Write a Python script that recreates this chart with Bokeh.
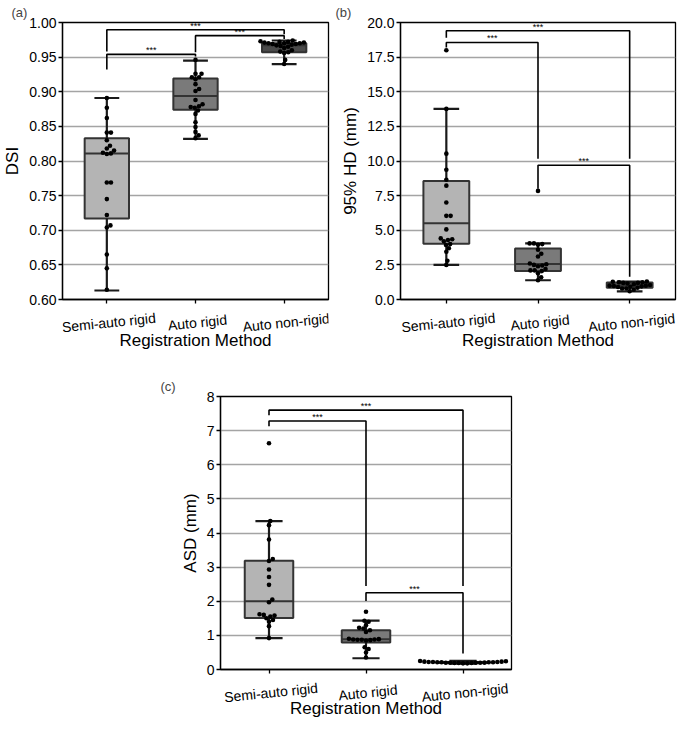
import numpy as np
from bokeh.plotting import figure
from bokeh.models import FixedTicker, NumeralTickFormatter, Range1d, Spacer, ColumnDataSource
from bokeh.layouts import column, row
from bokeh.core.properties import value
from bokeh.embed import file_html
from bokeh.resources import INLINE

categories = ["Semi-auto rigid", "Auto rigid", "Auto non-rigid"]
x_title = "Registration Method"
box_colors = ["#b4b4b4", "#7a7a7a", "#4a4a4a"]

# ---- (a) DSI ----
dsi_semi = [0.891, 0.877, 0.862, 0.841, 0.841, 0.830, 0.822, 0.818, 0.815, 0.812, 0.811,
            0.810, 0.769, 0.769, 0.745, 0.722, 0.707, 0.704, 0.665, 0.645, 0.614]
dsi_auto = [0.946, 0.926, 0.926, 0.921, 0.921, 0.918, 0.911, 0.904, 0.901, 0.888, 0.882,
            0.879, 0.878, 0.877, 0.873, 0.868, 0.856, 0.849, 0.842, 0.837, 0.833]
dsi_nonrigid = [0.974, 0.973, 0.972, 0.972, 0.971, 0.971, 0.970, 0.970, 0.970, 0.969, 0.969,
                0.968, 0.967, 0.966, 0.965, 0.963, 0.960, 0.958, 0.957, 0.956, 0.946, 0.940]
dsi_q1 = [0.717, 0.874, 0.957]
dsi_median = [0.811, 0.894, 0.967]
dsi_q3 = [0.833, 0.919, 0.970]
dsi_whisk_lo = [0.613, 0.832, 0.940]
dsi_whisk_hi = [0.891, 0.945, 0.974]
dsi_ticks = [0.60, 0.65, 0.70, 0.75, 0.80, 0.85, 0.90, 0.95, 1.00]
# (group i, group j, bar level, left leg end, right leg end)
dsi_brackets = [(0, 1, 0.954, 0.932, 0.951), (0, 2, 0.9895, 0.958, 0.983), (1, 2, 0.981, 0.957, 0.976)]

# ---- (b) 95% HD ----
hd_semi = [18.0, 13.76, 10.53, 9.37, 8.65, 8.22, 7.0, 6.04, 6.04, 5.06, 4.41, 4.35, 4.3,
           4.2, 4.0, 3.93, 3.7, 3.45, 2.8, 2.5]
hd_auto = [7.84, 4.05, 4.05, 4.0, 3.95, 3.6, 3.3, 3.1, 2.6, 2.55, 2.5, 2.45, 2.4, 2.2,
           2.1, 2.1, 2.05, 1.9, 1.6, 1.39]
hd_nonrigid = [1.3, 1.28, 1.25, 1.25, 1.2, 1.2, 1.15, 1.1, 1.05, 1.0, 1.0, 0.98, 0.95,
               0.92, 0.9, 0.85, 0.8, 0.8, 0.7, 0.6]
hd_q1 = [4.03, 2.06, 0.85]
hd_median = [5.5, 2.57, 1.0]
hd_q3 = [8.56, 3.69, 1.22]
hd_whisk_lo = [2.5, 1.39, 0.58]
hd_whisk_hi = [13.76, 4.05, 1.3]
hd_ticks = [0.0, 2.5, 5.0, 7.5, 10.0, 12.5, 15.0, 17.5, 20.0]
hd_brackets = [(0, 1, 18.56, 18.2, 10.17), (0, 2, 19.4, 18.9, 10.17), (1, 2, 9.69, 8.0, 1.65)]

# ---- (c) ASD ----
asd_semi = [6.63, 4.35, 4.23, 3.81, 3.24, 3.18, 2.93, 2.71, 2.48, 2.05, 1.97, 1.62, 1.60,
            1.58, 1.55, 1.50, 1.45, 1.40, 1.27, 0.92]
asd_auto = [1.69, 1.43, 1.40, 1.30, 1.22, 1.20, 1.15, 1.10, 0.90, 0.89, 0.88, 0.88, 0.87,
            0.87, 0.86, 0.85, 0.65, 0.60, 0.50, 0.35]
asd_nonrigid = [0.25, 0.24, 0.23, 0.23, 0.22, 0.22, 0.22, 0.21, 0.21, 0.21, 0.21, 0.20,
                0.20, 0.20, 0.20, 0.20, 0.19, 0.19, 0.19, 0.18, 0.18]
asd_q1 = [1.51, 0.79, 0.19]
asd_median = [2.0, 0.89, 0.20]
asd_q3 = [3.19, 1.15, 0.22]
asd_whisk_lo = [0.92, 0.33, 0.17]
asd_whisk_hi = [4.35, 1.43, 0.25]
asd_ticks = [0, 1, 2, 3, 4, 5, 6, 7, 8]
asd_brackets = [(0, 1, 7.28, 7.13, 2.45), (0, 2, 7.6, 7.45, 2.45), (1, 2, 2.25, 2.01, 0.47)]

FONT = "Liberation Sans"
DOT = 4.6
SWARM_D = 4.3


def swarm_offsets(vals, d, px_x, px_y):
    vals = np.asarray(vals, dtype=float)
    order = np.argsort(vals, kind="stable")
    placed = []
    offs = np.zeros(len(vals))
    for idx in order:
        y = vals[idx] * px_y
        cands = [0.0]
        for (xj, yj) in placed:
            dy = abs(y - yj)
            if dy < d:
                dx = np.sqrt(d * d - dy * dy)
                cands += [xj + dx, xj - dx]
        cands.sort(key=abs)
        chosen = cands[-1]
        for c in cands:
            if all((c - xj) ** 2 + (y - yj) ** 2 >= d * d - 1e-6 for (xj, yj) in placed):
                chosen = c
                break
        placed.append((chosen, y))
        offs[idx] = chosen / px_x
    return offs


def make_panel(title, ylabel, groups, q1, med, q3, lo, hi, ticks, fmt, brackets,
               width, height, bl, br, bt, bb, lab_h, cat_dy, xlab_dy):
    ymin, ymax = ticks[0], ticks[-1]
    p = figure(width=width, height=height, output_backend="svg", toolbar_location=None,
               x_range=Range1d(0, 3), y_range=Range1d(ymin, ymax),
               min_border_left=bl, min_border_right=br, min_border_top=bt, min_border_bottom=bb)
    fw = width - bl - br
    fh = height - bt - bb
    px_x = fw / 3.0
    px_y = fh / (ymax - ymin)
    centers = [i + 0.5 for i in range(3)]

    p.title.text = title
    p.title.text_font = FONT
    p.title.text_font_size = "13px"
    p.title.text_font_style = "normal"
    p.title.align = "left"
    p.title.offset = -bl
    p.title.standoff = 5

    p.xgrid.visible = False
    p.ygrid.ticker = FixedTicker(ticks=ticks)
    p.ygrid.grid_line_color = "#a4a4a4"
    p.ygrid.grid_line_width = 1.3

    p.outline_line_color = "black"
    p.outline_line_width = 1.3

    p.xaxis.ticker = FixedTicker(ticks=centers)
    p.xaxis.major_label_overrides = {c: "" for c in centers}
    p.yaxis.ticker = FixedTicker(ticks=ticks)
    p.yaxis.formatter = NumeralTickFormatter(format=fmt)
    for ax in (p.xaxis[0], p.yaxis[0]):
        ax.axis_line_color = "black"
        ax.axis_line_width = 1.3
        ax.major_tick_line_color = "black"
        ax.major_tick_line_width = 1.3
        ax.major_tick_out = 4
        ax.major_tick_in = 0
        ax.minor_tick_line_color = None
        ax.major_label_text_font = FONT
        ax.major_label_text_font_size = "14px"
        ax.major_label_text_color = "black"
        ax.major_label_standoff = 2
        ax.axis_label_text_font = FONT
        ax.axis_label_text_font_size = "17px"
        ax.axis_label_text_font_style = "normal"
        ax.axis_label_text_color = "black"
        ax.axis_label_standoff = 4
    p.xaxis.major_label_standoff = 0
    p.xaxis.major_label_text_font_size = "0px"
    p.yaxis.axis_label = ylabel

    src = ColumnDataSource(dict(x=centers, q1=q1, q3=q3, med=med, lo=lo, hi=hi, color=box_colors))
    p.vbar(x="x", bottom="q1", top="q3", width=0.5, fill_color="color",
           line_color="#333333", line_width=2, source=src)
    p.segment(x0=[c - 0.25 for c in centers], x1=[c + 0.25 for c in centers], y0=med, y1=med,
              line_color="#333333", line_width=2)
    p.segment(x0=centers, x1=centers, y0=q3, y1=hi, line_color="#1a1a1a", line_width=2.2)
    p.segment(x0=centers, x1=centers, y0=q1, y1=lo, line_color="#1a1a1a", line_width=2.2)
    p.segment(x0=[c - 0.14 for c in centers], x1=[c + 0.14 for c in centers], y0=hi, y1=hi,
              line_color="#1a1a1a", line_width=2.2)
    p.segment(x0=[c - 0.14 for c in centers], x1=[c + 0.14 for c in centers], y0=lo, y1=lo,
              line_color="#1a1a1a", line_width=2.2)

    xs, ys = [], []
    for c, g in zip(centers, groups):
        offs = swarm_offsets(g, SWARM_D, px_x, px_y)
        xs += list(c + offs)
        ys += list(g)
    p.scatter(xs, ys, size=DOT, color="black", line_width=0)

    tx, ty = [], []
    for (i, j, lev, le, re) in brackets:
        p.line([centers[i], centers[i], centers[j], centers[j]], [le, lev, lev, re],
               line_color="black", line_width=1.6)
        tx.append((centers[i] + centers[j]) / 2)
        ty.append(lev)
    p.text(x=tx, y=ty, text=["***"] * len(tx), text_align="center", text_baseline="bottom",
           text_font=value(FONT), text_font_size="9px", text_color="black", y_offset=1)

    # strip under the plot: slightly rotated category names and the x title,
    # sharing the plot's x range (its y range is in pixels below the plot)
    lab = figure(width=width, height=lab_h, output_backend="svg", toolbar_location=None,
                 x_range=p.x_range, y_range=Range1d(-lab_h, 0),
                 x_axis_location=None, y_axis_location=None,
                 min_border_left=bl, min_border_right=br, min_border_top=0, min_border_bottom=0)
    lab.outline_line_color = None
    lab.grid.visible = False
    lab.text(x=centers, y=[-cat_dy] * 3, text=categories, angle=0.1, text_align="center",
             text_baseline="middle", x_offset=2, text_font=value(FONT), text_font_size="14px",
             text_color="black")
    lab.text(x=[1.5], y=[-xlab_dy], text=[x_title], text_align="center", text_baseline="middle",
             text_font=value(FONT), text_font_size="17px", text_color="black")
    return column(p, lab)


pa = make_panel("(a)", "DSI", [dsi_semi, dsi_auto, dsi_nonrigid], dsi_q1, dsi_median, dsi_q3,
                dsi_whisk_lo, dsi_whisk_hi, dsi_ticks, "0.00", dsi_brackets,
                335, 308, 51, 7, 21, 9, 42, 14, 32)
pb = make_panel("(b)", "95% HD (mm)", [hd_semi, hd_auto, hd_nonrigid], hd_q1, hd_median, hd_q3,
                hd_whisk_lo, hd_whisk_hi, hd_ticks, "0.0", hd_brackets,
                342, 308, 65, 2, 21, 9, 42, 14, 32)
pc = make_panel("(c)", "ASD (mm)", [asd_semi, asd_auto, asd_nonrigid], asd_q1, asd_median, asd_q3,
                asd_whisk_lo, asd_whisk_hi, asd_ticks, "0", asd_brackets,
                371, 328, 60, 20, 46, 9, 40, 14, 30)

layout = column(row(pa, pb), row(Spacer(width=160, height=368), pc))
open("out.html", "w").write(file_html(layout, INLINE))
